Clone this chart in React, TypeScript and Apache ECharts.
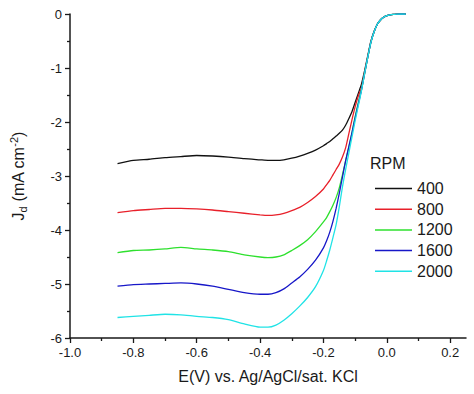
import React, { useEffect, useRef } from "react";
import * as echarts from "echarts";

const potentials = [
  -0.85, -0.8, -0.75, -0.7, -0.65, -0.6, -0.55, -0.5, -0.45, -0.4, -0.375, -0.35, -0.325, -0.3,
  -0.275, -0.25, -0.225, -0.2, -0.19, -0.18, -0.17, -0.16, -0.15, -0.14, -0.13, -0.12, -0.11,
  -0.1, -0.09, -0.08, -0.07, -0.06, -0.05, -0.04, -0.03, -0.02, -0.01, 0, 0.01, 0.02, 0.03,
  0.04, 0.05, 0.06,
];

const rpm400 = [
  -2.77, -2.71, -2.69, -2.66, -2.64, -2.62, -2.63, -2.65, -2.68, -2.7, -2.71, -2.71, -2.7, -2.67,
  -2.63, -2.58, -2.52, -2.44, -2.4, -2.36, -2.31, -2.26, -2.21, -2.15, -2.06, -1.94, -1.81,
  -1.64, -1.47, -1.3, -1.05, -0.77, -0.5, -0.32, -0.19, -0.11, -0.06, -0.03, -0.015, -0.007,
  -0.003, 0, 0, 0,
];
const rpm800 = [
  -3.68, -3.64, -3.62, -3.6, -3.6, -3.61, -3.63, -3.66, -3.69, -3.72, -3.73, -3.72, -3.69, -3.64,
  -3.58, -3.49, -3.38, -3.24, -3.16, -3.08, -2.98, -2.88, -2.78, -2.65, -2.48, -2.22, -1.96,
  -1.72, -1.52, -1.37, -1.08, -0.79, -0.51, -0.33, -0.19, -0.11, -0.06, -0.03, -0.015, -0.007,
  -0.003, 0, 0, 0,
];
const rpm1200 = [
  -4.42, -4.38, -4.37, -4.35, -4.32, -4.35, -4.37, -4.4, -4.46, -4.5, -4.51, -4.5, -4.46, -4.38,
  -4.29, -4.18, -4.03, -3.85, -3.77, -3.66, -3.54, -3.4, -3.22, -2.98, -2.72, -2.47, -2.2,
  -1.9, -1.64, -1.4, -1.1, -0.8, -0.52, -0.33, -0.19, -0.11, -0.06, -0.03, -0.015, -0.007,
  -0.003, 0, 0, 0,
];
const rpm1600 = [
  -5.04, -5.01, -5.0, -4.99, -4.98, -5.0, -5.04, -5.1, -5.16, -5.19, -5.19, -5.16, -5.09, -4.98,
  -4.87, -4.73, -4.56, -4.33, -4.2, -4.04, -3.84, -3.6, -3.32, -3.02, -2.72, -2.46, -2.2,
  -1.93, -1.67, -1.41, -1.1, -0.8, -0.52, -0.33, -0.19, -0.11, -0.06, -0.03, -0.015, -0.007,
  -0.003, 0, 0, 0,
];
const rpm2000 = [
  -5.62, -5.6, -5.58, -5.56, -5.57, -5.6, -5.62, -5.66, -5.74, -5.8, -5.8, -5.76, -5.67, -5.55,
  -5.41, -5.25, -5.05, -4.75, -4.57, -4.37, -4.14, -3.9, -3.57, -3.2, -2.88, -2.58, -2.28,
  -1.98, -1.7, -1.42, -1.1, -0.8, -0.52, -0.33, -0.19, -0.11, -0.06, -0.03, -0.015, -0.007,
  -0.003, 0, 0, 0,
];

const seriesNames = ["400", "800", "1200", "1600", "2000"];
const seriesValues = [rpm400, rpm800, rpm1200, rpm1600, rpm2000];
const seriesColors = ["#111111", "#e8202a", "#2ee02e", "#1717c8", "#20e3e6"];

const xMajorTicks = [-1.0, -0.8, -0.6, -0.4, -0.2, 0.0, 0.2];
const xMinorTicks = [-0.9, -0.7, -0.5, -0.3, -0.1, 0.1];

const FONT = "'Liberation Sans', Arial, sans-serif";

export default function App() {
  const ref = useRef<HTMLDivElement>(null);

  useEffect(() => {
    if (!ref.current) return;
    const chart = echarts.init(ref.current, undefined, { renderer: "svg" });
    const axisColor = "#1a1a1a";
    chart.setOption({
      animation: false,
      backgroundColor: "#ffffff",
      textStyle: { fontFamily: FONT },
      grid: { left: 62, top: 14, right: 8, bottom: 56 },
      legend: {
        orient: "vertical",
        left: 370,
        top: 175.5,
        icon: "rect",
        itemWidth: 37,
        itemHeight: 1.5,
        itemGap: 4.7,
        textStyle: { fontFamily: FONT, fontSize: 16, color: "#1a1a1a", lineHeight: 16 },
        data: seriesNames,
      },
      graphic: [
        {
          type: "text",
          left: 370,
          top: 155,
          style: { text: "RPM", font: `16px ${FONT}`, fill: "#1a1a1a" },
        },
      ],
      xAxis: [
        {
          type: "value",
          min: -1.0,
          max: 0.25,
          position: "bottom",
          name: "E(V) vs. Ag/AgCl/sat. KCl",
          nameLocation: "middle",
          nameGap: 30,
          nameTextStyle: { fontFamily: FONT, fontSize: 16, color: "#1a1a1a" },
          axisLine: { show: true, onZero: false, lineStyle: { color: axisColor, width: 1.5 } },
          axisTick: {
            show: true,
            inside: false,
            length: 5,
            customValues: xMajorTicks,
            lineStyle: { color: axisColor, width: 1.3 },
          },
          axisLabel: {
            customValues: xMajorTicks,
            fontFamily: FONT,
            fontSize: 13,
            color: "#1a1a1a",
            margin: 8,
            formatter: (v: number) => v.toFixed(1),
          },
          splitLine: { show: false },
        },
        {
          type: "value",
          min: -1.0,
          max: 0.25,
          position: "bottom",
          axisLine: { show: false, onZero: false },
          axisTick: {
            show: true,
            inside: false,
            length: 3,
            customValues: xMinorTicks,
            lineStyle: { color: axisColor, width: 1.3 },
          },
          axisLabel: { show: false },
          splitLine: { show: false },
        },
      ],
      yAxis: {
        type: "value",
        min: -6,
        max: 0,
        interval: 1,
        name: "{n|J}{sub|d}{n| (mA cm}{sup|-2}{n|)}",
        nameLocation: "middle",
        nameGap: 42,
        nameRotate: 90,
        nameTextStyle: {
          fontFamily: FONT,
          fontSize: 16,
          color: "#1a1a1a",
          rich: {
            n: { fontFamily: FONT, fontSize: 16, color: "#1a1a1a", lineHeight: 20 },
            sub: {
              fontFamily: FONT,
              fontSize: 11,
              color: "#1a1a1a",
              lineHeight: 11,
              verticalAlign: "bottom",
            },
            sup: {
              fontFamily: FONT,
              fontSize: 11,
              color: "#1a1a1a",
              lineHeight: 11,
              verticalAlign: "top",
            },
          },
        },
        axisLine: { show: true, onZero: false, lineStyle: { color: axisColor, width: 1.5 } },
        axisTick: { show: true, inside: false, length: 5, lineStyle: { color: axisColor, width: 1.3 } },
        minorTick: { show: true, splitNumber: 2, length: 3, lineStyle: { color: axisColor, width: 1.3 } },
        axisLabel: { fontFamily: FONT, fontSize: 13, color: "#1a1a1a", margin: 8 },
        splitLine: { show: false },
        minorSplitLine: { show: false },
      },
      series: seriesNames.map((name, i) => ({
        name,
        type: "line",
        xAxisIndex: 0,
        showSymbol: false,
        symbol: "none",
        smooth: 0.2,
        color: seriesColors[i],
        lineStyle: { color: seriesColors[i], width: 1.3 },
        data: potentials.map((x, j) => [x, seriesValues[i][j]]),
      })),
    });
    return () => chart.dispose();
  }, []);

  return (
    <div
      ref={ref}
      style={{ position: "fixed", left: 0, top: 0, width: 474, height: 394, background: "#fff" }}
    />
  );
}
